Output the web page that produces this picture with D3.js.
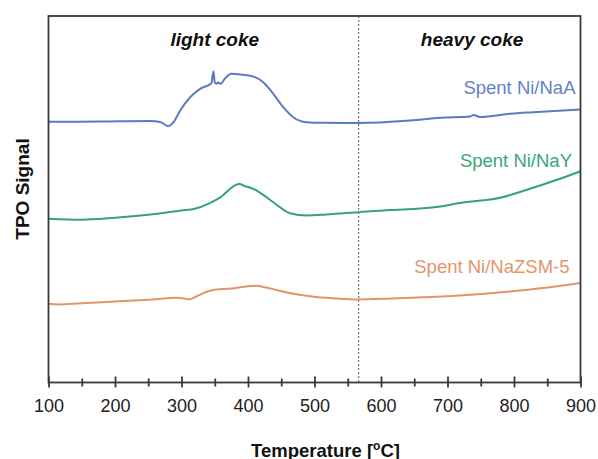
<!DOCTYPE html>
<html>
<head>
<meta charset="utf-8">
<script src="https://cdn.jsdelivr.net/npm/d3@7"></script>
<style>
  html, body { margin: 0; padding: 0; background: #fff; }
  svg { display: block; font-family: "Liberation Sans", Arial, sans-serif; }
</style>
</head>
<body>
<svg id="chart" width="598" height="459"></svg>
<script>
// Temperature (°C) readings and TPO signal (arbitrary units, with the series offsets shown in the picture)
const naA_T = [100,177,253,268,280,288,298,313,328,345,348,350,353,355,359,365,375,388,408,423,438,453,468,488,513,565,644,689,734,739,749,794,829,900];
const naA_S = [260.7,261,261.5,260.5,256.3,260.3,272,285.3,293.7,299.3,311.3,300.3,298.7,300,298.7,303.7,308.7,308,306,300.3,288.7,275.3,265.3,260.3,259.7,259.5,262,264.7,266,267.5,265.5,268.7,270.3,273];

const naY_T = [100,149,200,250,300,320,340,360,375,381,387,395,408,428,448,463,488,518,566,614,659,689,719,779,824,869,900];
const naY_S = [163.7,162.7,164.7,167.7,172,173.7,178.7,186,194.7,197.3,198.5,196.5,193.7,185.3,175.3,169.3,167,168,170.3,172.5,174,176,179.5,184.7,193.7,203.7,211.3];

const zsm_T = [100,114,149,200,250,292,302,312,322,335,350,375,400,413,425,450,475,505,523,566,644,719,794,844,900];
const zsm_S = [78.7,78,79.3,81,82.7,84.7,84.3,83.3,86,90,92.7,94,96.3,96.7,95.3,91.3,88,85.3,84.5,83,84.7,87,91,94.5,99.5];

const seriesNames = ["Spent Ni/NaA", "Spent Ni/NaY", "Spent Ni/NaZSM-5"];
const seriesColors = ["#5b7dbd", "#36a276", "#e0956a"];
const labelColors = ["#6384c4", "#3aa679", "#e3956a"];
const majorTicks = [100,200,300,400,500,600,700,800,900];
const minorTicks = [150,250,350,450,550,650,750,850];
const regionNames = ["light coke", "heavy coke"];
const regionCenters = [350, 737];
const boundaryT = 566.5;

const svg = d3.select("#chart");
const L = 48.5, R = 580.5, T = 16, B = 382.5;
const x = d3.scaleLinear().domain([100, 900]).range([L, R]);
const y = d3.scaleLinear().domain([0, 366.5]).range([B, T]);

const frameColor = "#3a3a3a";

// dashed boundary
svg.append("line")
  .attr("x1", x(boundaryT)).attr("x2", x(boundaryT))
  .attr("y1", T).attr("y2", B)
  .attr("stroke", "#555").attr("stroke-width", 1)
  .attr("stroke-dasharray", "2,2");

// curves
const line = d3.line().x(d => x(d[0])).y(d => y(d[1])).curve(d3.curveMonotoneX);
const data = [
  d3.zip(naA_T, naA_S),
  d3.zip(naY_T, naY_S),
  d3.zip(zsm_T, zsm_S)
];
data.forEach((d, i) => {
  svg.append("path").datum(d)
    .attr("d", line)
    .attr("fill", "none")
    .attr("stroke", seriesColors[i])
    .attr("stroke-width", 2)
    .attr("stroke-linejoin", "round");
});

// frame
svg.append("rect")
  .attr("x", L).attr("y", T).attr("width", R - L).attr("height", B - T)
  .attr("fill", "none").attr("stroke", frameColor).attr("stroke-width", 1.8);

// axis major
const axMajor = svg.append("g").attr("transform", `translate(0,${B})`)
  .call(d3.axisBottom(x).tickValues(majorTicks).tickSize(5).tickSizeOuter(0).tickFormat(d3.format("d")));
axMajor.select(".domain").remove();
axMajor.selectAll(".tick line").attr("y1", -6).attr("stroke", frameColor).attr("stroke-width", 1.8);
axMajor.selectAll(".tick text")
  .attr("y", 29.2).attr("dy", 0)
  .attr("font-size", 18).attr("fill", "#222")
  .attr("font-family", "Liberation Sans, Arial, sans-serif");

// axis minor
const axMinor = svg.append("g").attr("transform", `translate(0,${B})`)
  .call(d3.axisBottom(x).tickValues(minorTicks).tickSize(4).tickSizeOuter(0).tickFormat(""));
axMinor.select(".domain").remove();
axMinor.selectAll(".tick line").attr("y1", -4).attr("stroke", frameColor).attr("stroke-width", 1.8);

// region labels
regionNames.forEach((t, i) => {
  svg.append("text")
    .attr("x", x(regionCenters[i])).attr("y", 46)
    .attr("text-anchor", "middle")
    .attr("font-size", 19).attr("font-weight", "bold").attr("font-style", "italic")
    .attr("fill", "#111")
    .text(t);
});

// series labels
const labelX = [575.5, 572, 569.5];
const labelY = [94.3, 166.5, 272.5];
seriesNames.forEach((t, i) => {
  svg.append("text")
    .attr("x", labelX[i]).attr("y", labelY[i])
    .attr("text-anchor", "end")
    .attr("font-size", 18.5)
    .attr("fill", labelColors[i])
    .text(t);
});

// axis titles
const xt = svg.append("text")
  .attr("x", 325.5).attr("y", 456.5)
  .attr("text-anchor", "middle")
  .attr("font-size", 18.5).attr("font-weight", "bold").attr("fill", "#111");
xt.append("tspan").text("Temperature [");
xt.append("tspan").attr("font-size", 12).attr("dy", -7).text("o");
xt.append("tspan").attr("dy", 7).text("C]");

svg.append("text")
  .attr("transform", "translate(29,189) rotate(-90)")
  .attr("text-anchor", "middle")
  .attr("font-size", 19).attr("font-weight", "bold").attr("fill", "#111")
  .text("TPO Signal");
</script>
</body>
</html>
